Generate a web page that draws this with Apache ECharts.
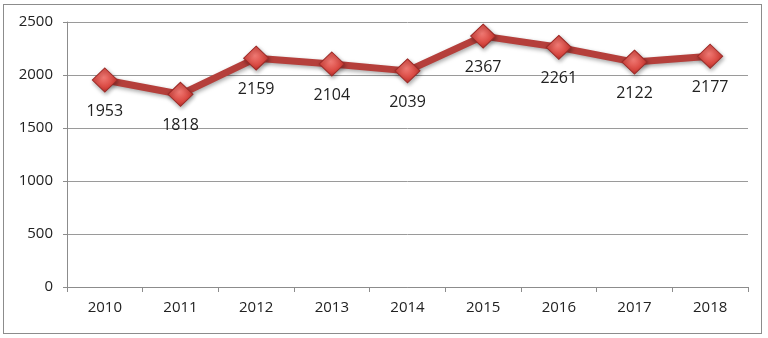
<!DOCTYPE html>
<html>
<head>
<meta charset="utf-8">
<script src="https://cdn.jsdelivr.net/npm/echarts@6/dist/echarts.min.js"></script>
<style>
html,body{margin:0;padding:0;background:#fff;}
#frame{position:absolute;left:3px;top:4px;width:759px;height:330px;border:1px solid #8c8c8c;box-sizing:border-box;}
#chart{position:absolute;left:0;top:0;width:768px;height:338px;}
</style>
</head>
<body>
<div id="frame"></div>
<div id="chart"></div>
<script>
const categories = ['2010','2011','2012','2013','2014','2015','2016','2017','2018'];
const values = [1953,1818,2159,2104,2039,2367,2261,2122,2177];
const yTicks = [0,500,1000,1500,2000,2500];

const chart = echarts.init(document.getElementById('chart'));
const txtFont = "'Open Sans', 'Liberation Sans', sans-serif";
chart.setOption({
  animation:false,
  grid:{left:67,right:20,top:22,bottom:51},
  xAxis:{
    type:'category',
    data:categories,
    boundaryGap:true,
    axisLine:{lineStyle:{color:'#8c8c8c',width:1}},
    axisTick:{show:true,length:5,lineStyle:{color:'#8c8c8c'}},
    axisLabel:{color:'#222',fontSize:15,fontFamily:txtFont,margin:13}
  },
  yAxis:{
    type:'value',
    min:yTicks[0],max:yTicks[yTicks.length-1],interval:500,
    axisLine:{show:true,lineStyle:{color:'#8c8c8c',width:1}},
    axisTick:{show:true,length:4,lineStyle:{color:'#8c8c8c'}},
    splitLine:{lineStyle:{color:'#9a9a9a',width:1}},
    axisLabel:{color:'#222',fontSize:15,fontFamily:txtFont,margin:14,formatter:function(v){return String(v);}}
  },
  series:[{
    type:'line',
    data:values,
    symbol:'diamond',
    symbolSize:[25,24],
    lineStyle:{color:'#b53f3b',width:7,shadowColor:'rgba(0,0,0,0.35)',shadowBlur:4,shadowOffsetX:1,shadowOffsetY:2},
    itemStyle:{
      color:{type:'radial',x:0.45,y:0.4,r:0.7,colorStops:[{offset:0,color:'#f07a74'},{offset:0.6,color:'#d9463f'},{offset:1,color:'#a52623'}]},
      borderColor:'#9c2a27',borderWidth:1,
      shadowColor:'rgba(0,0,0,0.35)',shadowBlur:4,shadowOffsetX:1,shadowOffsetY:2
    },
    label:{show:true,position:'bottom',distance:11,color:'#222',fontSize:16,fontFamily:txtFont},
    z:3
  }]
});
</script>
</body>
</html>
